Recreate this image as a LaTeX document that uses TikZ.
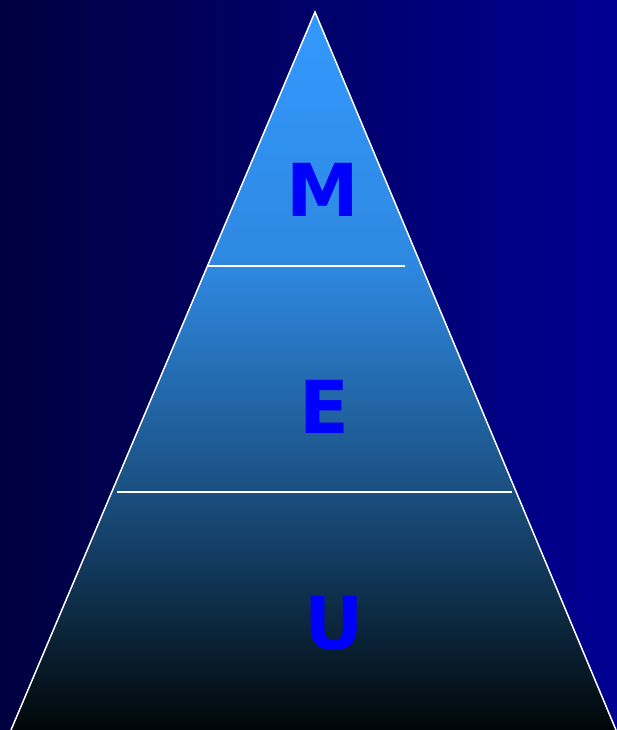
\documentclass[tikz,border=0pt]{standalone}
\usepackage{fontspec}
\newfontfamily\tierfont{DejaVu Sans}
\usetikzlibrary{calc}
\usepackage{xcolor}
\definecolor{bgleft}{RGB}{0,0,64}
\definecolor{bgright}{RGB}{0,0,146}
\definecolor{tiertop}{RGB}{51,153,255}
\definecolor{tiermid}{RGB}{46,136,224}
\definecolor{tierlow}{RGB}{26,79,128}
\definecolor{tierbase}{RGB}{0,6,8}
\definecolor{letter}{RGB}{0,0,255}
\pgfdeclareverticalshading{pyramid}{100bp}{color(0bp)=(tierbase); color(25bp)=(tierbase); color(41.6bp)=(tierlow); color(57.3bp)=(tiermid); color(75bp)=(tiertop); color(100bp)=(tiertop)}

\begin{document}
\begin{tikzpicture}[
    x=1pt, y=-1pt,
    tier/.style={font=\tierfont\bfseries\fontsize{73}{73}\selectfont, text=letter, inner sep=0pt},
    edge/.style={draw=white, line width=1.5pt},
]
\useasboundingbox (0,0) rectangle (617,730);

% Background
\fill[left color=bgleft, right color=bgright] (0,0) rectangle (617,730);

% Pyramid
\coordinate (apex) at (315,12);
\coordinate (baseL) at (11,730);
\coordinate (baseR) at (616,730);
\shade[shading=pyramid] (apex) -- (baseL) -- (baseR) -- cycle;
\draw[edge] (baseL) -- (apex) -- (baseR);

% Dividers
\coordinate (upL) at (208,266);
\coordinate (upR) at (405,266);
\coordinate (lowL) at (117,492);
\coordinate (lowR) at (512,492);
\draw[edge] (upL) -- (upR);
\draw[edge] (lowL) -- (lowR);

% Tiers
\node[tier] (m) at (322.5,190) {M};
\node[tier] (e) at (324,406.5) {E};
\node[tier] (u) at (334,623.5) {U};
\end{tikzpicture}
\end{document}
